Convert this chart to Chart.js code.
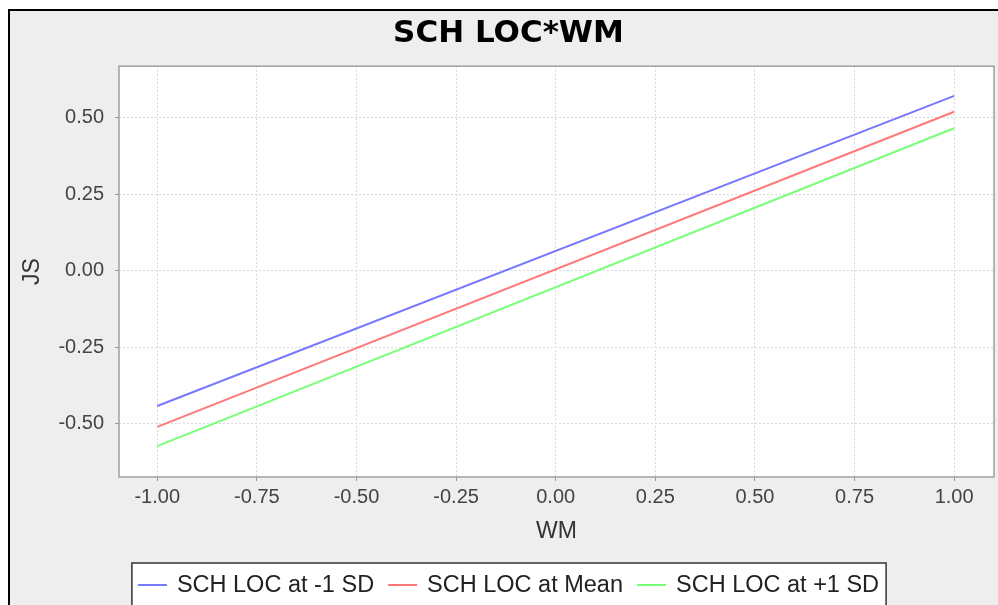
<!DOCTYPE html>
<html>
<head>
<meta charset="utf-8">
<title>SCH LOC*WM</title>
<script src="https://cdn.jsdelivr.net/npm/chart.js@4.4.0/dist/chart.umd.min.js"></script>
<style>
  html, body { margin: 0; padding: 0; background: #fff; overflow: hidden; }
  canvas { display: block; }
</style>
</head>
<body>
<canvas id="chart" width="1008" height="605"></canvas>
<script>
// values
const wmValues = [-1, 1];
const seriesNames = ['SCH LOC at -1 SD', 'SCH LOC at Mean', 'SCH LOC at +1 SD'];
const lowSch = [-0.442, 0.572];
const meanSch = [-0.510, 0.520];
const highSch = [-0.573, 0.466];
const xTicks = [-1, -0.75, -0.5, -0.25, 0, 0.25, 0.5, 0.75, 1];
const yTicks = [-0.5, -0.25, 0, 0.25, 0.5];

const FONT = '"Liberation Sans", Arial, sans-serif';
const colors = ['rgb(120,120,255)', 'rgb(255,120,120)', 'rgb(120,255,120)'];

function toPoints(vals) {
  return wmValues.map((x, i) => ({ x: x, y: vals[i] }));
}

// grey panel with the black frame and the white plot area
const panel = {
  id: 'panel',
  beforeDraw(chart) {
    const ctx = chart.ctx, a = chart.chartArea;
    ctx.save();
    ctx.fillStyle = '#fff';
    ctx.fillRect(0, 0, chart.width, chart.height);
    ctx.fillStyle = '#eeeeee';
    ctx.fillRect(10, 11, chart.width - 10, chart.height - 11);
    ctx.fillStyle = '#000';
    ctx.fillRect(8, 9, chart.width - 8, 2);
    ctx.fillRect(8, 9, 2, chart.height - 9);
    ctx.fillStyle = '#fff';
    ctx.fillRect(a.left, a.top, a.right - a.left, a.bottom - a.top);
    ctx.restore();
  },
  afterDraw(chart) {
    const ctx = chart.ctx, a = chart.chartArea;
    ctx.save();
    ctx.strokeStyle = '#a0a0a0';
    ctx.lineWidth = 1.5;
    ctx.strokeRect(a.left, a.top, a.right - a.left, a.bottom - a.top);
    ctx.restore();
  }
};

// boxed legend under the axis, like the original
const boxLegend = {
  id: 'boxLegend',
  afterDraw(chart) {
    const ctx = chart.ctx;
    const lineLen = 29, textGap = 10, itemGap = 14;
    ctx.save();
    ctx.font = '23.5px ' + FONT;
    const widths = seriesNames.map(n => ctx.measureText(n).width);
    let total = itemGap * (seriesNames.length - 1);
    widths.forEach(w => { total += lineLen + textGap + w; });
    const cx = (9 + chart.width) / 2;
    let x = cx - total / 2;
    const top = 563, mid = 585;
    ctx.fillStyle = '#fff';
    ctx.fillRect(x - 6, top, total + 13, 60);
    ctx.strokeStyle = '#333';
    ctx.lineWidth = 1.5;
    ctx.strokeRect(x - 6, top, total + 13, 60);
    ctx.textBaseline = 'middle';
    ctx.textAlign = 'left';
    seriesNames.forEach((name, i) => {
      ctx.strokeStyle = colors[i];
      ctx.lineWidth = 2;
      ctx.beginPath();
      ctx.moveTo(x, mid);
      ctx.lineTo(x + lineLen, mid);
      ctx.stroke();
      ctx.fillStyle = '#222';
      ctx.fillText(name, x + lineLen + textGap, mid + 1);
      x += lineLen + textGap + widths[i] + itemGap;
    });
    ctx.restore();
  }
};

const ctx = document.getElementById('chart').getContext('2d');
new Chart(ctx, {
  type: 'line',
  data: {
    datasets: [
      { label: seriesNames[0], data: toPoints(lowSch), borderColor: colors[0] },
      { label: seriesNames[1], data: toPoints(meanSch), borderColor: colors[1] },
      { label: seriesNames[2], data: toPoints(highSch), borderColor: colors[2] }
    ]
  },
  options: {
    responsive: false,
    animation: false,
    devicePixelRatio: 1,
    layout: { padding: { left: 9, top: 10, right: 0, bottom: 60 } },
    elements: {
      line: { borderWidth: 2, tension: 0, fill: false },
      point: { radius: 0 }
    },
    plugins: {
      legend: { display: false },
      tooltip: { enabled: false },
      title: {
        display: true,
        text: 'SCH LOC*WM',
        color: '#000',
        font: { family: '"DejaVu Sans", sans-serif', size: 31, weight: 'bold' },
        padding: { top: 5, bottom: 14 }
      }
    },
    scales: {
      x: {
        type: 'linear',
        min: -1.096,
        max: 1.1,
        afterBuildTicks: s => { s.ticks = xTicks.map(v => ({ value: v })); },
        afterFit: s => { s.height = 68; },
        ticks: {
          callback: v => v.toFixed(2),
          color: '#444',
          font: { family: FONT, size: 20 },
          padding: 4,
          maxRotation: 0,
          autoSkip: false
        },
        grid: { color: '#d9d9d9', lineWidth: 1, tickColor: '#999', tickLength: 4, tickBorderDash: [] },
        border: { display: false, dash: [2, 2] },
        title: { display: true, text: 'WM', color: '#333', font: { family: FONT, size: 23 }, padding: { top: 0, bottom: 0 } }
      },
      y: {
        type: 'linear',
        min: -0.674,
        max: 0.669,
        afterBuildTicks: s => { s.ticks = yTicks.map(v => ({ value: v })); },
        afterFit: s => { s.width = 110; },
        ticks: {
          callback: v => v.toFixed(2),
          color: '#444',
          font: { family: FONT, size: 20 },
          padding: 11
        },
        grid: { color: '#d9d9d9', lineWidth: 1, tickColor: '#999', tickLength: 4, tickBorderDash: [] },
        border: { display: false, dash: [2, 2] },
        title: { display: true, text: 'JS', color: '#333', font: { family: FONT, size: 23 }, padding: { top: 10, bottom: 0 } }
      },
      // empty axis on the right, only to keep the plot where the original has it
      yr: {
        position: 'right',
        grid: { display: false },
        border: { display: false },
        ticks: { display: false },
        afterFit: s => { s.width = 14; }
      }
    }
  },
  plugins: [panel, boxLegend]
});
</script>
</body>
</html>
